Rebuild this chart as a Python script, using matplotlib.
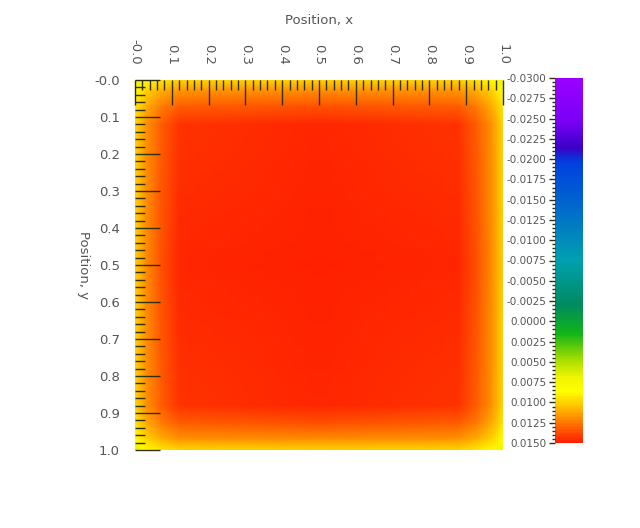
import numpy as np
import matplotlib
matplotlib.use("Agg")
import matplotlib.pyplot as plt
from matplotlib.colors import LinearSegmentedColormap
from matplotlib.ticker import MultipleLocator

# grid nodes (same along x and y) and field values
nodes = [0.0, 0.03, 0.07, 0.12, 0.5, 0.88, 0.93, 0.97, 1.0]
field = [
    [0.0072, 0.0086, 0.0093, 0.0098, 0.0100, 0.0098, 0.0093, 0.0086, 0.0072],
    [0.0086, 0.0100, 0.0110, 0.0117, 0.0119, 0.0117, 0.0110, 0.0100, 0.0086],
    [0.0093, 0.0110, 0.0123, 0.0132, 0.0135, 0.0132, 0.0123, 0.0110, 0.0093],
    [0.0098, 0.0117, 0.0132, 0.0143, 0.0147, 0.0143, 0.0132, 0.0117, 0.0098],
    [0.0100, 0.0119, 0.0135, 0.0147, 0.0150, 0.0147, 0.0135, 0.0119, 0.0100],
    [0.0098, 0.0117, 0.0132, 0.0143, 0.0147, 0.0143, 0.0132, 0.0117, 0.0098],
    [0.0093, 0.0110, 0.0123, 0.0132, 0.0135, 0.0132, 0.0123, 0.0110, 0.0093],
    [0.0086, 0.0100, 0.0110, 0.0117, 0.0119, 0.0117, 0.0110, 0.0100, 0.0086],
    [0.0072, 0.0086, 0.0093, 0.0098, 0.0100, 0.0098, 0.0093, 0.0086, 0.0072],
]
x_ticks = [0.0, 0.1, 0.2, 0.3, 0.4, 0.5, 0.6, 0.7, 0.8, 0.9, 1.0]
x_ticklabels = ["-0.0", "0.1", "0.2", "0.3", "0.4", "0.5", "0.6", "0.7", "0.8", "0.9", "1.0"]
y_ticklabels = ["-0.0", "0.1", "0.2", "0.3", "0.4", "0.5", "0.6", "0.7", "0.8", "0.9", "1.0"]
cbar_ticks = [-0.03, -0.0275, -0.025, -0.0225, -0.02, -0.0175, -0.015, -0.0125, -0.01,
              -0.0075, -0.005, -0.0025, 0.0, 0.0025, 0.005, 0.0075, 0.01, 0.0125, 0.015]
vmin, vmax = -0.03, 0.015

cmap = LinearSegmentedColormap.from_list("idl_like", [
    (0.00, "#9a00ff"),
    (0.12, "#7800f4"),
    (0.19, "#3a00c8"),
    (0.23, "#0040e0"),
    (0.35, "#0068cc"),
    (0.50, "#00a0b0"),
    (0.62, "#008a60"),
    (0.70, "#10b418"),
    (0.77, "#a0dc00"),
    (0.82, "#eef400"),
    (0.86, "#ffff00"),
    (0.91, "#ffb400"),
    (0.95, "#ff7000"),
    (1.00, "#ff2000"),
])

txt = "#555555"
tick_col = "#303010"

fig = plt.figure(figsize=(6.4, 5.28), dpi=100)
ax = fig.add_axes([135 / 640, 1 - 450 / 528, 368 / 640, 370 / 528])
X, Y = np.meshgrid(nodes, nodes)
mesh = ax.pcolormesh(X, Y, np.array(field), cmap=cmap, vmin=vmin, vmax=vmax,
                     shading="gouraud")
ax.set_xlim(0, 1)
ax.set_ylim(1, 0)
for s in ax.spines.values():
    s.set_visible(False)

ax.xaxis.tick_top()
ax.xaxis.set_label_position("top")
ax.set_xticks(x_ticks)
ax.set_xticklabels(x_ticklabels, rotation=-90, color=txt, fontsize=9.5)
ax.set_yticks(x_ticks)
ax.set_yticklabels(y_ticklabels, color=txt, fontsize=9.5)
ax.xaxis.set_minor_locator(MultipleLocator(0.02))
ax.yaxis.set_minor_locator(MultipleLocator(0.02))
ax.tick_params(which="major", direction="in", length=18, width=1, color=tick_col,
               top=True, bottom=False, left=True, right=False)
ax.tick_params(which="minor", direction="in", length=7, width=1, color=tick_col,
               top=True, bottom=False, left=True, right=False)
ax.tick_params(axis="x", which="major", pad=11)
ax.tick_params(axis="y", which="major", pad=11)
ax.set_xlabel("Position, x", color=txt, fontsize=9.5, labelpad=11)
ax.set_ylabel("Position, y", color=txt, fontsize=9.5, rotation=-90, labelpad=12)

cax = fig.add_axes([555 / 640, 1 - 443 / 528, 28 / 640, 365 / 528])
cb = fig.colorbar(mesh, cax=cax)
cb.outline.set_visible(False)
cb.set_ticks(cbar_ticks)
cb.set_ticklabels(["%.4f" % t for t in cbar_ticks])
cax.invert_yaxis()
cax.yaxis.set_ticks_position("left")
cax.yaxis.set_label_position("left")
cax.yaxis.set_minor_locator(MultipleLocator(0.0005))
cax.tick_params(which="major", direction="out", length=4, width=1, color=tick_col,
                labelsize=7.5, labelcolor=txt, pad=2)
cax.tick_params(which="minor", direction="out", length=2, width=1, color=tick_col)

fig.savefig("out.png", dpi=100)
